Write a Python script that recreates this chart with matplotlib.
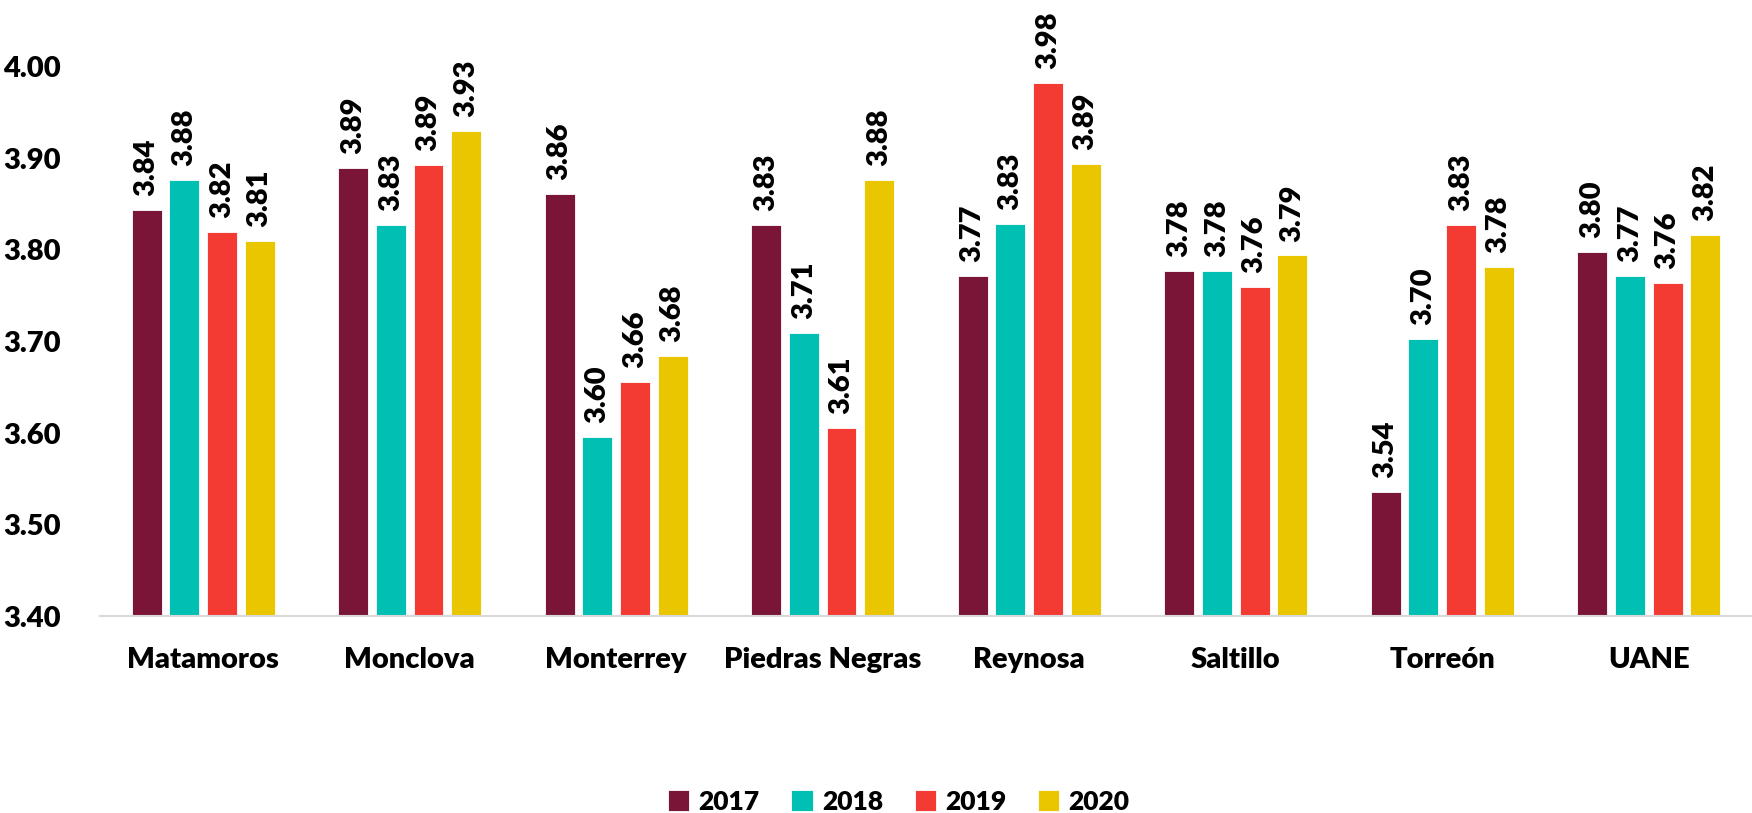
import matplotlib.pyplot as plt
import numpy as np

plt.rcParams['font.family'] = ['Lato', 'DejaVu Sans']
plt.rcParams['font.weight'] = 'heavy'

campus = ['Matamoros', 'Monclova', 'Monterrey', 'Piedras Negras', 'Reynosa', 'Saltillo', 'Torreón', 'UANE']
years = ['2017', '2018', '2019', '2020']
v2017 = [3.844, 3.890, 3.861, 3.827, 3.772, 3.777, 3.536, 3.798]
v2018 = [3.877, 3.827, 3.596, 3.709, 3.828, 3.777, 3.703, 3.772]
v2019 = [3.820, 3.893, 3.656, 3.606, 3.983, 3.760, 3.827, 3.764]
v2020 = [3.810, 3.930, 3.684, 3.877, 3.894, 3.794, 3.781, 3.816]
colors = ['#7B1538', '#00BFB3', '#F33A33', '#EAC600']

fig = plt.figure(figsize=(17.52, 8.13), dpi=100)
ax = fig.add_axes([0.057, 0.2423, 0.943, 0.6753])

x = np.arange(len(campus))
slot = 0.1825
width = 0.145
for i, (vals, yr) in enumerate(zip([v2017, v2018, v2019, v2020], years)):
    pos = x + (i - 1.5) * slot
    ax.bar(pos, np.array(vals) - 3.4, width, bottom=3.4, color=colors[i],
           label=yr, edgecolor='white', linewidth=0.6)
    for p, v in zip(pos, vals):
        ax.annotate(f'{v:.2f}', xy=(p, v), xytext=(0, 10), textcoords='offset points',
                    rotation=90, ha='center', va='bottom', fontsize=21,
                    fontweight='heavy', annotation_clip=False)

ticks = np.arange(3.4, 4.01, 0.1)
ax.set_xlim(-0.5, len(campus) - 0.5)
ax.set_ylim(3.4, 4.0)
ax.set_yticks(ticks)
ax.set_yticklabels([f'{t:.2f}' for t in ticks], fontsize=21, fontweight='heavy')
ax.set_xticks(x)
ax.set_xticklabels(campus, fontsize=21, fontweight='heavy')
ax.tick_params(axis='both', length=0)
ax.tick_params(axis='y', pad=28)
ax.tick_params(axis='x', pad=22)
for s in ['top', 'right', 'left']:
    ax.spines[s].set_visible(False)
ax.spines['bottom'].set_color('#D9D9D9')
ax.spines['bottom'].set_linewidth(1.5)

fig.legend(loc='lower center', bbox_to_anchor=(0.513, -0.03), ncol=4, frameon=False,
           prop={'size': 19, 'weight': 'heavy'}, handlelength=0.8, handleheight=0.8,
           handletextpad=0.35, columnspacing=1.2)

fig.savefig('out.png', dpi=100)
